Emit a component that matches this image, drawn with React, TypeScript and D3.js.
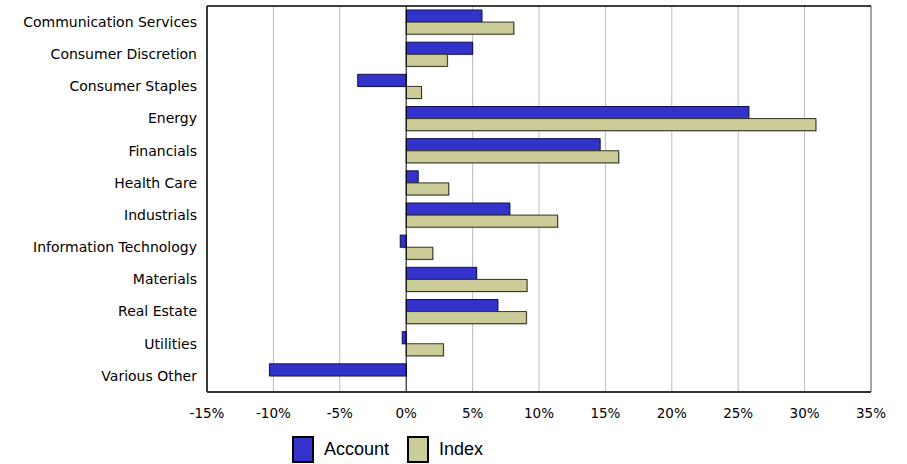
import React from "react";
import * as d3 from "d3";

const categories = [
  "Communication Services",
  "Consumer Discretion",
  "Consumer Staples",
  "Energy",
  "Financials",
  "Health Care",
  "Industrials",
  "Information Technology",
  "Materials",
  "Real Estate",
  "Utilities",
  "Various Other",
];
const accountValues = [5.7, 5.0, -3.65, 25.8, 14.6, 0.9, 7.8, -0.45, 5.3, 6.9, -0.3, -10.3];
const indexValues = [8.1, 3.1, 1.15, 30.85, 16.0, 3.2, 11.4, 2.0, 9.1, 9.05, 2.8, null];
const xTicks = [-15, -10, -5, 0, 5, 10, 15, 20, 25, 30, 35];
const seriesNames = ["Account", "Index"];
const seriesColors = ["#3333cc", "#cccc99"];
const seriesStrokes = ["#10104a", "#333326"];

const width = 907;
const height = 464;
const margin = { left: 207, right: 36, top: 6, bottom: 72 };
const labelFont = "Tahoma, 'DejaVu Sans', sans-serif";

const App: React.FC = () => {
  const x = d3
    .scaleLinear()
    .domain([-15, 35])
    .range([margin.left, width - margin.right]);
  const y = d3
    .scaleBand<string>()
    .domain(categories)
    .range([margin.top, height - margin.bottom]);
  const inner = d3
    .scaleBand<string>()
    .domain(seriesNames)
    .range([4, y.bandwidth() - 4]);

  const series = [accountValues, indexValues];
  const x0 = x(0);
  const plotBottom = height - margin.bottom;

  return (
    <svg
      width={width}
      height={height}
      style={{ position: "absolute", left: 0, top: 0 }}
    >
      <rect x={0} y={0} width={width} height={height} fill="#fff" />
      {xTicks.map((t) =>
        t === 0 ? null : (
          <line
            key={"g" + t}
            x1={x(t)}
            x2={x(t)}
            y1={margin.top}
            y2={plotBottom}
            stroke={t === 35 ? "#888" : "#bbb"}
            strokeWidth={t === 35 ? 1.5 : 1}
          />
        )
      )}
      {series.map((vals, si) =>
        vals.map((v, i) =>
          v === null ? null : (
            <g key={si + "-" + i}>
              <rect
                x={Math.min(x(v), x0) + 1}
                y={(y(categories[i]) as number) + (inner(seriesNames[si]) as number) + 1}
                width={Math.abs(x(v) - x0)}
                height={inner.bandwidth()}
                fill="#999"
                opacity={0.5}
              />
              <rect
                x={Math.min(x(v), x0)}
                y={(y(categories[i]) as number) + (inner(seriesNames[si]) as number)}
                width={Math.abs(x(v) - x0)}
                height={inner.bandwidth()}
                fill={seriesColors[si]}
                stroke={seriesStrokes[si]}
                strokeWidth={1}
              />
            </g>
          )
        )
      )}
      <line x1={x0} x2={x0} y1={margin.top} y2={plotBottom} stroke="#000" strokeWidth={1} />
      <line x1={margin.left} x2={width - margin.right} y1={margin.top} y2={margin.top} stroke="#000" strokeWidth={1.5} />
      <line x1={margin.left} x2={margin.left} y1={margin.top} y2={plotBottom} stroke="#000" strokeWidth={1.5} />
      <line x1={margin.left} x2={width - margin.right} y1={plotBottom} y2={plotBottom} stroke="#333" strokeWidth={2} />
      {categories.map((c) => (
        <text
          key={c}
          x={margin.left - 10}
          y={(y(c) as number) + y.bandwidth() / 2}
          dy="0.35em"
          textAnchor="end"
          fontFamily={labelFont}
          fontSize={14}
          fill="#000"
        >
          {c}
        </text>
      ))}
      {xTicks.map((t) => (
        <text
          key={"t" + t}
          x={x(t)}
          y={plotBottom + 21}
          dy="0.35em"
          textAnchor="middle"
          fontFamily={labelFont}
          fontSize={13.5}
          fill="#000"
        >
          {t + "%"}
        </text>
      ))}
      {seriesNames.map((s, si) => {
        const lx = si === 0 ? 293 : 408;
        return (
          <g key={s}>
            <rect x={lx} y={437} width={20} height={25} fill={seriesColors[si]} stroke="#000" strokeWidth={2} />
            <text
              x={lx + 31}
              y={455}
              fontFamily="'Liberation Sans', Arial, sans-serif"
              fontSize={18}
              fill="#000"
            >
              {s}
            </text>
          </g>
        );
      })}
    </svg>
  );
};

export default App;
